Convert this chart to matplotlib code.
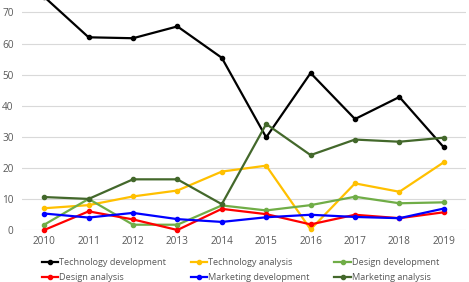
import matplotlib.pyplot as plt

plt.rcParams['font.family'] = ['Open Sans', 'DejaVu Sans']

anos = ['2010', '2011', '2012', '2013', '2014', '2015', '2016', '2017', '2018', '2019']

tech_dev = [75, 62, 61.7, 65.5, 55.4, 29.8, 50.5, 35.7, 42.8, 26.6]
tech_ana = [7.0, 8.0, 10.8, 12.7, 18.8, 20.7, 0.2, 15.0, 12.3, 21.8]
design_dev = [1.7, 10.0, 1.7, 1.7, 7.9, 6.3, 8.0, 10.7, 8.6, 8.9]
design_ana = [0, 6.0, 3.4, 0, 6.8, 5.1, 1.8, 4.9, 3.8, 5.7]
mkt_dev = [5.3, 4.0, 5.5, 3.5, 2.6, 4.1, 4.9, 4.2, 3.8, 6.9]
mkt_ana = [10.6, 10.0, 16.3, 16.3, 8.3, 34.1, 24.1, 29.1, 28.4, 29.7]

series = [
    ('Technology development', tech_dev, '#000000'),
    ('Technology analysis', tech_ana, '#FFC000'),
    ('Design development', design_dev, '#70AD47'),
    ('Design analysis', design_ana, '#FF0000'),
    ('Marketing development', mkt_dev, '#0000FF'),
    ('Marketing analysis', mkt_ana, '#43682B'),
]

fig = plt.figure(figsize=(4.69, 2.82), dpi=100)
ax = fig.add_axes([22/469, 1 - 230/282, 444/469, 230/282])

x = list(range(len(anos)))
linhas = []
for nome, valores, cor in series:
    l, = ax.plot(x, valores, color=cor, linewidth=1.6, marker='o', markersize=3,
                 label=nome, clip_on=False)
    linhas.append(l)

ax.set_xlim(-0.5, len(anos) - 0.5)
ax.set_ylim(0, 74)
ax.set_yticks(range(0, 80, 10))
ax.set_xticks(x)
ax.set_xticklabels(anos)
ax.grid(axis='y', color='#D9D9D9', linewidth=0.8)
ax.set_axisbelow(True)
for s in ax.spines.values():
    s.set_visible(False)
ax.tick_params(axis='both', length=0, labelsize=7.2, colors='#595959', pad=4)
ax.tick_params(axis='y', pad=6)

# legenda preenchida por linha (3 colunas)
ordem = [0, 3, 1, 4, 2, 5]
fig.legend([linhas[i] for i in ordem], [series[i][0] for i in ordem],
           loc='lower left', bbox_to_anchor=(38/469, -0.012), ncol=3, frameon=False,
           fontsize=6.6, labelcolor='#595959', handlelength=1.8, handletextpad=0.1,
           columnspacing=2.7, labelspacing=0.6, borderaxespad=0)

fig.savefig('out.png', dpi=100)
